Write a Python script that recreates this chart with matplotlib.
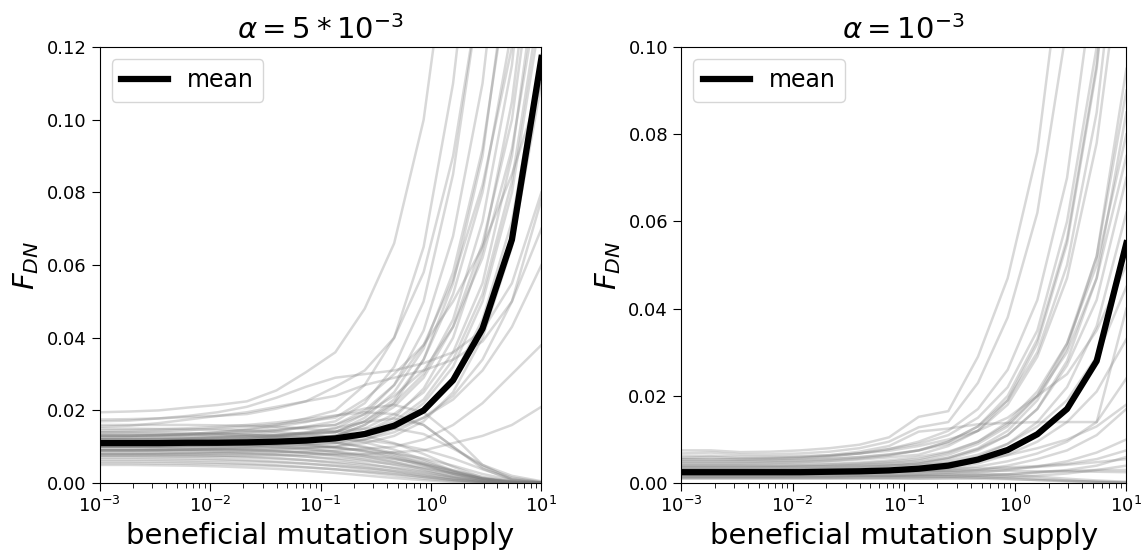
import matplotlib
matplotlib.use("Agg")
import matplotlib.pyplot as plt
import numpy as np

# beneficial mutation supply grid (log spaced, 1e-3 .. 1e1)
supply = [1.0e-3, 1.85e-3, 3.41e-3, 6.31e-3, 1.17e-2, 2.15e-2, 3.98e-2, 7.36e-2,
          0.136, 0.251, 0.464, 0.858, 1.585, 2.93, 5.41, 10.0]

titles = [r'$\alpha = 5*10^{-3}$', r'$\alpha = 10^{-3}$']
ylims = [0.12, 0.10]

# left panel: individual runs (alpha = 5e-3)
runs_left = [
    [0.0195, 0.0197, 0.0200, 0.0208, 0.0215, 0.0225, 0.0255, 0.0305, 0.036, 0.048, 0.066, 0.100, 0.160, 0.250, 0.400, 0.600],
    [0.0175, 0.0176, 0.0178, 0.0182, 0.0185, 0.0190, 0.0205, 0.0225, 0.0265, 0.031, 0.040, 0.058, 0.090, 0.140, 0.220, 0.350],
    [0.0130, 0.0130, 0.0132, 0.0135, 0.0140, 0.0148, 0.0160, 0.0178, 0.020, 0.027, 0.040, 0.065, 0.110, 0.180, 0.300, 0.500],
    [0.0120, 0.0120, 0.0121, 0.0123, 0.0127, 0.0133, 0.0142, 0.0155, 0.017, 0.022, 0.032, 0.050, 0.085, 0.140, 0.240, 0.400],
    [0.0110, 0.0110, 0.0111, 0.0113, 0.0116, 0.0120, 0.0128, 0.0138, 0.015, 0.019, 0.027, 0.042, 0.068, 0.110, 0.180, 0.300],
    [0.0100, 0.0100, 0.0101, 0.0103, 0.0106, 0.0110, 0.0116, 0.0123, 0.013, 0.016, 0.022, 0.034, 0.055, 0.090, 0.150, 0.250],
    [0.0120, 0.0120, 0.0120, 0.0121, 0.0123, 0.0126, 0.0130, 0.0135, 0.014, 0.017, 0.022, 0.030, 0.045, 0.072, 0.115, 0.190],
    [0.0090, 0.0090, 0.0091, 0.0093, 0.0096, 0.0100, 0.0106, 0.0113, 0.012, 0.014, 0.018, 0.026, 0.040, 0.064, 0.105, 0.170],
    [0.0100, 0.0100, 0.0100, 0.0101, 0.0103, 0.0106, 0.0110, 0.0115, 0.012, 0.014, 0.017, 0.023, 0.034, 0.052, 0.083, 0.135],
    [0.0115, 0.0115, 0.0116, 0.0117, 0.0119, 0.0121, 0.0124, 0.0127, 0.013, 0.015, 0.019, 0.025, 0.036, 0.055, 0.090, 0.150],
    [0.0080, 0.0080, 0.0081, 0.0083, 0.0085, 0.0088, 0.0092, 0.0096, 0.010, 0.012, 0.015, 0.020, 0.029, 0.045, 0.072, 0.118],
    [0.0130, 0.0130, 0.0131, 0.0133, 0.0136, 0.0140, 0.0146, 0.0153, 0.016, 0.019, 0.024, 0.031, 0.043, 0.062, 0.092, 0.140],
    [0.0090, 0.0090, 0.0090, 0.0091, 0.0092, 0.0094, 0.0096, 0.0098, 0.010, 0.011, 0.013, 0.017, 0.025, 0.040, 0.065, 0.110],
    [0.0140, 0.0141, 0.0143, 0.0146, 0.0150, 0.0155, 0.0162, 0.0170, 0.018, 0.023, 0.030, 0.038, 0.050, 0.065, 0.085, 0.110],
    [0.0100, 0.0100, 0.0100, 0.0101, 0.0102, 0.0104, 0.0106, 0.0108, 0.011, 0.012, 0.014, 0.018, 0.024, 0.034, 0.050, 0.078],
    [0.0110, 0.0110, 0.0110, 0.0110, 0.0111, 0.0112, 0.0114, 0.0117, 0.012, 0.013, 0.015, 0.018, 0.023, 0.031, 0.043, 0.060],
    [0.0080, 0.0080, 0.0080, 0.0080, 0.0081, 0.0082, 0.0084, 0.0087, 0.009, 0.0095, 0.010, 0.012, 0.016, 0.022, 0.030, 0.038],
    [0.0075, 0.0075, 0.0075, 0.0075, 0.0075, 0.0076, 0.0077, 0.0078, 0.008, 0.008, 0.0085, 0.009, 0.011, 0.013, 0.016, 0.021],
    [0.0155, 0.0158, 0.0165, 0.0175, 0.0185, 0.0195, 0.0210, 0.0225, 0.024, 0.027, 0.029, 0.031, 0.034, 0.039, 0.050, 0.070],
    [0.0170, 0.0172, 0.0178, 0.0185, 0.0195, 0.0210, 0.0235, 0.0265, 0.029, 0.030, 0.031, 0.033, 0.036, 0.042, 0.055, 0.080],
    [0.0120, 0.0120, 0.0121, 0.0123, 0.0126, 0.0130, 0.0134, 0.0138, 0.014, 0.017, 0.023, 0.034, 0.052, 0.080, 0.125, 0.200],
    [0.0105, 0.0105, 0.0106, 0.0108, 0.0110, 0.0113, 0.0118, 0.0124, 0.013, 0.016, 0.021, 0.029, 0.043, 0.066, 0.100, 0.160],
    [0.0090, 0.0090, 0.0091, 0.0092, 0.0094, 0.0097, 0.0101, 0.0105, 0.011, 0.013, 0.016, 0.022, 0.032, 0.050, 0.080, 0.130],
    [0.0125, 0.0126, 0.0128, 0.0131, 0.0135, 0.0140, 0.0147, 0.0155, 0.016, 0.020, 0.027, 0.038, 0.056, 0.082, 0.120, 0.180],
    [0.0110, 0.0110, 0.0111, 0.0113, 0.0116, 0.0120, 0.0126, 0.0133, 0.014, 0.018, 0.025, 0.037, 0.058, 0.092, 0.145, 0.230],
    [0.0130, 0.0130, 0.0132, 0.0135, 0.0140, 0.0146, 0.0155, 0.0168, 0.0185, 0.0205, 0.0215, 0.0195, 0.0130, 0.0050, 0.0010, 0.0001],
    [0.0110, 0.0110, 0.0112, 0.0115, 0.0119, 0.0124, 0.0131, 0.0140, 0.0152, 0.0168, 0.0178, 0.0160, 0.0100, 0.0040, 0.0008, 0.0001],
    [0.0145, 0.0146, 0.0148, 0.0151, 0.0155, 0.0160, 0.0167, 0.0176, 0.0186, 0.0195, 0.0190, 0.0160, 0.0100, 0.0045, 0.0015, 0.0003],
    [0.0120, 0.0120, 0.0121, 0.0123, 0.0125, 0.0128, 0.0132, 0.0137, 0.0143, 0.0150, 0.0150, 0.0135, 0.0095, 0.0050, 0.0020, 0.0005],
    [0.0160, 0.0160, 0.0160, 0.0160, 0.0159, 0.0158, 0.0155, 0.0150, 0.0142, 0.0130, 0.0110, 0.0080, 0.0045, 0.0015, 0.0003, 0.0000],
    [0.0150, 0.0150, 0.0149, 0.0148, 0.0147, 0.0145, 0.0141, 0.0135, 0.0126, 0.0112, 0.0092, 0.0065, 0.0035, 0.0012, 0.0002, 0.0000],
    [0.0140, 0.0140, 0.0139, 0.0138, 0.0136, 0.0133, 0.0129, 0.0122, 0.0112, 0.0098, 0.0078, 0.0052, 0.0026, 0.0008, 0.0001, 0.0000],
    [0.0132, 0.0132, 0.0131, 0.0130, 0.0129, 0.0127, 0.0124, 0.0119, 0.0111, 0.0100, 0.0083, 0.0060, 0.0033, 0.0012, 0.0002, 0.0000],
    [0.0125, 0.0125, 0.0124, 0.0123, 0.0121, 0.0118, 0.0114, 0.0108, 0.0099, 0.0087, 0.0070, 0.0048, 0.0025, 0.0008, 0.0001, 0.0000],
    [0.0118, 0.0118, 0.0117, 0.0116, 0.0115, 0.0113, 0.0110, 0.0105, 0.0098, 0.0088, 0.0074, 0.0055, 0.0032, 0.0013, 0.0003, 0.0000],
    [0.0112, 0.0112, 0.0111, 0.0110, 0.0108, 0.0105, 0.0101, 0.0095, 0.0086, 0.0074, 0.0058, 0.0038, 0.0018, 0.0005, 0.0001, 0.0000],
    [0.0105, 0.0105, 0.0104, 0.0103, 0.0102, 0.0100, 0.0097, 0.0093, 0.0087, 0.0079, 0.0067, 0.0050, 0.0030, 0.0012, 0.0003, 0.0000],
    [0.0100, 0.0100, 0.0099, 0.0098, 0.0096, 0.0093, 0.0089, 0.0083, 0.0075, 0.0064, 0.0050, 0.0033, 0.0016, 0.0005, 0.0001, 0.0000],
    [0.0095, 0.0095, 0.0094, 0.0093, 0.0092, 0.0090, 0.0087, 0.0083, 0.0077, 0.0069, 0.0058, 0.0043, 0.0026, 0.0011, 0.0003, 0.0000],
    [0.0090, 0.0090, 0.0089, 0.0088, 0.0086, 0.0083, 0.0079, 0.0073, 0.0065, 0.0054, 0.0041, 0.0026, 0.0012, 0.0004, 0.0001, 0.0000],
    [0.0085, 0.0085, 0.0084, 0.0083, 0.0082, 0.0080, 0.0077, 0.0073, 0.0068, 0.0061, 0.0052, 0.0040, 0.0026, 0.0013, 0.0005, 0.0001],
    [0.0080, 0.0080, 0.0079, 0.0078, 0.0076, 0.0073, 0.0069, 0.0063, 0.0055, 0.0045, 0.0033, 0.0020, 0.0009, 0.0003, 0.0000, 0.0000],
    [0.0075, 0.0075, 0.0074, 0.0073, 0.0072, 0.0070, 0.0067, 0.0063, 0.0058, 0.0051, 0.0042, 0.0031, 0.0019, 0.0009, 0.0003, 0.0000],
    [0.0070, 0.0070, 0.0069, 0.0068, 0.0066, 0.0063, 0.0059, 0.0054, 0.0047, 0.0038, 0.0028, 0.0017, 0.0008, 0.0002, 0.0000, 0.0000],
    [0.0065, 0.0065, 0.0064, 0.0063, 0.0062, 0.0060, 0.0057, 0.0053, 0.0048, 0.0042, 0.0034, 0.0024, 0.0014, 0.0006, 0.0002, 0.0000],
    [0.0060, 0.0060, 0.0059, 0.0058, 0.0056, 0.0053, 0.0049, 0.0044, 0.0038, 0.0030, 0.0021, 0.0012, 0.0005, 0.0001, 0.0000, 0.0000],
    [0.0055, 0.0055, 0.0054, 0.0053, 0.0052, 0.0050, 0.0047, 0.0043, 0.0038, 0.0032, 0.0025, 0.0017, 0.0009, 0.0003, 0.0001, 0.0000],
    [0.0050, 0.0050, 0.0049, 0.0048, 0.0046, 0.0043, 0.0039, 0.0034, 0.0028, 0.0021, 0.0014, 0.0008, 0.0003, 0.0001, 0.0000, 0.0000],
    [0.0135, 0.0135, 0.0135, 0.0135, 0.0134, 0.0133, 0.0131, 0.0128, 0.0124, 0.0118, 0.0108, 0.0092, 0.0068, 0.0038, 0.0012, 0.0002],
    [0.0108, 0.0108, 0.0108, 0.0108, 0.0107, 0.0106, 0.0104, 0.0101, 0.0097, 0.0091, 0.0082, 0.0068, 0.0048, 0.0025, 0.0008, 0.0001],
    [0.0092, 0.0092, 0.0092, 0.0092, 0.0091, 0.0090, 0.0088, 0.0085, 0.0081, 0.0075, 0.0066, 0.0053, 0.0035, 0.0017, 0.0005, 0.0001],
]
mean_left = [0.0110, 0.0110, 0.0110, 0.0111, 0.0111, 0.0112, 0.0114, 0.0117,
             0.0123, 0.0135, 0.0158, 0.0200, 0.0283, 0.0425, 0.0670, 0.1170]

# right panel: individual runs (alpha = 1e-3)
runs_right = [
    [0.0075, 0.0075, 0.0071, 0.0072, 0.0075, 0.0080, 0.0088, 0.0105, 0.0152, 0.0165, 0.0290, 0.0470, 0.0760, 0.1300, 0.2200, 0.3500],
    [0.0068, 0.0070, 0.0066, 0.0066, 0.0068, 0.0072, 0.0080, 0.0095, 0.0128, 0.0140, 0.0230, 0.0380, 0.0620, 0.1050, 0.1800, 0.3000],
    [0.0055, 0.0055, 0.0054, 0.0055, 0.0057, 0.0061, 0.0068, 0.0078, 0.0095, 0.0120, 0.0170, 0.0260, 0.0420, 0.0700, 0.1200, 0.2000],
    [0.0045, 0.0045, 0.0045, 0.0046, 0.0048, 0.0051, 0.0056, 0.0063, 0.0075, 0.0095, 0.0130, 0.0200, 0.0330, 0.0560, 0.0960, 0.1600],
    [0.0050, 0.0050, 0.0050, 0.0051, 0.0053, 0.0056, 0.0060, 0.0066, 0.0075, 0.0090, 0.0120, 0.0180, 0.0290, 0.0470, 0.0780, 0.1300],
    [0.0035, 0.0035, 0.0035, 0.0036, 0.0037, 0.0039, 0.0042, 0.0046, 0.0052, 0.0065, 0.0090, 0.0130, 0.0200, 0.0320, 0.0520, 0.0950],
    [0.0030, 0.0030, 0.0030, 0.0031, 0.0032, 0.0034, 0.0036, 0.0040, 0.0045, 0.0058, 0.0080, 0.0120, 0.0190, 0.0310, 0.0520, 0.0900],
    [0.0040, 0.0040, 0.0040, 0.0040, 0.0041, 0.0043, 0.0045, 0.0049, 0.0055, 0.0070, 0.0095, 0.0140, 0.0210, 0.0320, 0.0500, 0.0800],
    [0.0025, 0.0025, 0.0025, 0.0025, 0.0026, 0.0027, 0.0029, 0.0031, 0.0035, 0.0045, 0.0060, 0.0090, 0.0140, 0.0220, 0.0360, 0.0620],
    [0.0030, 0.0030, 0.0030, 0.0030, 0.0031, 0.0032, 0.0033, 0.0035, 0.0040, 0.0050, 0.0065, 0.0090, 0.0130, 0.0190, 0.0290, 0.0450],
    [0.0020, 0.0020, 0.0020, 0.0020, 0.0021, 0.0022, 0.0023, 0.0025, 0.0028, 0.0034, 0.0045, 0.0065, 0.0095, 0.0140, 0.0210, 0.0330],
    [0.0020, 0.0020, 0.0020, 0.0020, 0.0020, 0.0021, 0.0022, 0.0023, 0.0025, 0.0030, 0.0038, 0.0050, 0.0068, 0.0095, 0.0140, 0.0240],
    [0.0015, 0.0015, 0.0015, 0.0015, 0.0016, 0.0016, 0.0017, 0.0018, 0.0020, 0.0024, 0.0030, 0.0040, 0.0055, 0.0075, 0.0110, 0.0170],
    [0.0015, 0.0015, 0.0015, 0.0015, 0.0015, 0.0015, 0.0016, 0.0016, 0.0018, 0.0020, 0.0024, 0.0030, 0.0038, 0.0050, 0.0070, 0.0100],
    [0.0012, 0.0012, 0.0012, 0.0012, 0.0012, 0.0012, 0.0013, 0.0013, 0.0014, 0.0015, 0.0017, 0.0020, 0.0025, 0.0030, 0.0040, 0.0060],
    [0.0035, 0.0035, 0.0035, 0.0036, 0.0037, 0.0039, 0.0041, 0.0044, 0.0048, 0.0058, 0.0078, 0.0110, 0.0170, 0.0280, 0.0470, 0.0850],
    [0.0050, 0.0050, 0.0050, 0.0051, 0.0052, 0.0055, 0.0059, 0.0065, 0.0075, 0.0095, 0.0130, 0.0190, 0.0300, 0.0500, 0.0850, 0.1450],
    [0.0045, 0.0045, 0.0045, 0.0046, 0.0047, 0.0050, 0.0054, 0.0059, 0.0065, 0.0085, 0.0120, 0.0190, 0.0320, 0.0550, 0.0950, 0.1600],
    [0.0030, 0.0030, 0.0030, 0.0030, 0.0031, 0.0033, 0.0036, 0.0040, 0.0045, 0.0055, 0.0075, 0.0110, 0.0170, 0.0270, 0.0420, 0.0700],
    [0.0058, 0.0060, 0.0057, 0.0058, 0.0060, 0.0064, 0.0072, 0.0085, 0.0118, 0.0125, 0.0135, 0.0138, 0.0140, 0.0140, 0.0140, 0.0400],
    [0.0055, 0.0055, 0.0055, 0.0056, 0.0058, 0.0062, 0.0068, 0.0078, 0.0090, 0.0110, 0.0150, 0.0220, 0.0350, 0.0600, 0.1000, 0.1700],
    [0.0040, 0.0040, 0.0040, 0.0041, 0.0042, 0.0044, 0.0047, 0.0052, 0.0060, 0.0072, 0.0095, 0.0135, 0.0200, 0.0300, 0.0470, 0.0750],
    [0.0028, 0.0028, 0.0028, 0.0028, 0.0028, 0.0028, 0.0028, 0.0028, 0.0028, 0.0028, 0.0028, 0.0028, 0.0027, 0.0027, 0.0026, 0.0025],
    [0.0022, 0.0022, 0.0022, 0.0022, 0.0022, 0.0022, 0.0021, 0.0021, 0.0020, 0.0019, 0.0017, 0.0014, 0.0010, 0.0006, 0.0003, 0.0001],
    [0.0018, 0.0018, 0.0018, 0.0018, 0.0018, 0.0018, 0.0018, 0.0017, 0.0016, 0.0015, 0.0013, 0.0010, 0.0007, 0.0004, 0.0002, 0.0001],
    [0.0010, 0.0010, 0.0010, 0.0010, 0.0010, 0.0010, 0.0010, 0.0010, 0.0010, 0.0011, 0.0012, 0.0014, 0.0017, 0.0022, 0.0030, 0.0040],
    [0.0025, 0.0025, 0.0025, 0.0025, 0.0025, 0.0025, 0.0026, 0.0026, 0.0027, 0.0028, 0.0030, 0.0033, 0.0037, 0.0042, 0.0048, 0.0055],
    [0.0032, 0.0032, 0.0032, 0.0032, 0.0032, 0.0032, 0.0032, 0.0032, 0.0032, 0.0033, 0.0034, 0.0036, 0.0039, 0.0044, 0.0055, 0.0075],
    [0.0012, 0.0012, 0.0012, 0.0012, 0.0012, 0.0012, 0.0012, 0.0012, 0.0011, 0.0011, 0.0010, 0.0009, 0.0007, 0.0005, 0.0003, 0.0002],
    [0.0038, 0.0038, 0.0038, 0.0038, 0.0038, 0.0038, 0.0039, 0.0040, 0.0042, 0.0046, 0.0053, 0.0064, 0.0080, 0.0100, 0.0130, 0.0180],
    [0.0062, 0.0063, 0.0061, 0.0061, 0.0062, 0.0064, 0.0068, 0.0074, 0.0085, 0.0100, 0.0120, 0.0150, 0.0200, 0.0250, 0.0350, 0.0500],
    [0.0016, 0.0016, 0.0016, 0.0016, 0.0016, 0.0016, 0.0016, 0.0016, 0.0016, 0.0017, 0.0018, 0.0020, 0.0024, 0.0028, 0.0030, 0.0030],
    [0.0026, 0.0026, 0.0026, 0.0026, 0.0026, 0.0026, 0.0026, 0.0026, 0.0025, 0.0024, 0.0022, 0.0019, 0.0015, 0.0010, 0.0006, 0.0003],
]
mean_right = [0.0025, 0.0025, 0.0025, 0.0025, 0.0025, 0.0026, 0.0027, 0.0029,
              0.0033, 0.0040, 0.0054, 0.0076, 0.0112, 0.0170, 0.0280, 0.0550]

fig = plt.figure(figsize=(11.47, 5.54), dpi=100)
ax1 = fig.add_axes([0.087, 0.128, 0.385, 0.787])
ax2 = fig.add_axes([0.594, 0.128, 0.388, 0.787])

for ax, runs, mean, title, ytop in zip([ax1, ax2], [runs_left, runs_right],
                                       [mean_left, mean_right], titles, ylims):
    for r in runs:
        ax.plot(supply, r, color='gray', alpha=0.3, lw=1.8)
    ax.plot(supply, mean, color='k', lw=4.5, label='mean')
    ax.set_xscale('log')
    ax.set_xlim(1e-3, 1e1)
    ax.set_ylim(0, ytop)
    ticks = np.arange(0, ytop + 1e-9, 0.02)
    ax.set_yticks(ticks)
    ax.set_yticklabels(['%.2f' % v for v in ticks])
    ax.tick_params(which='major', labelsize=13, length=6)
    ax.tick_params(which='minor', length=3.5)
    ax.set_title(title, fontsize=21)
    ax.set_xlabel('beneficial mutation supply', fontsize=21)
    ax.set_ylabel(r'$F_{DN}$', fontsize=21)
    ax.legend(loc='upper left', fontsize=17)

fig.savefig('out.png', dpi=100)
